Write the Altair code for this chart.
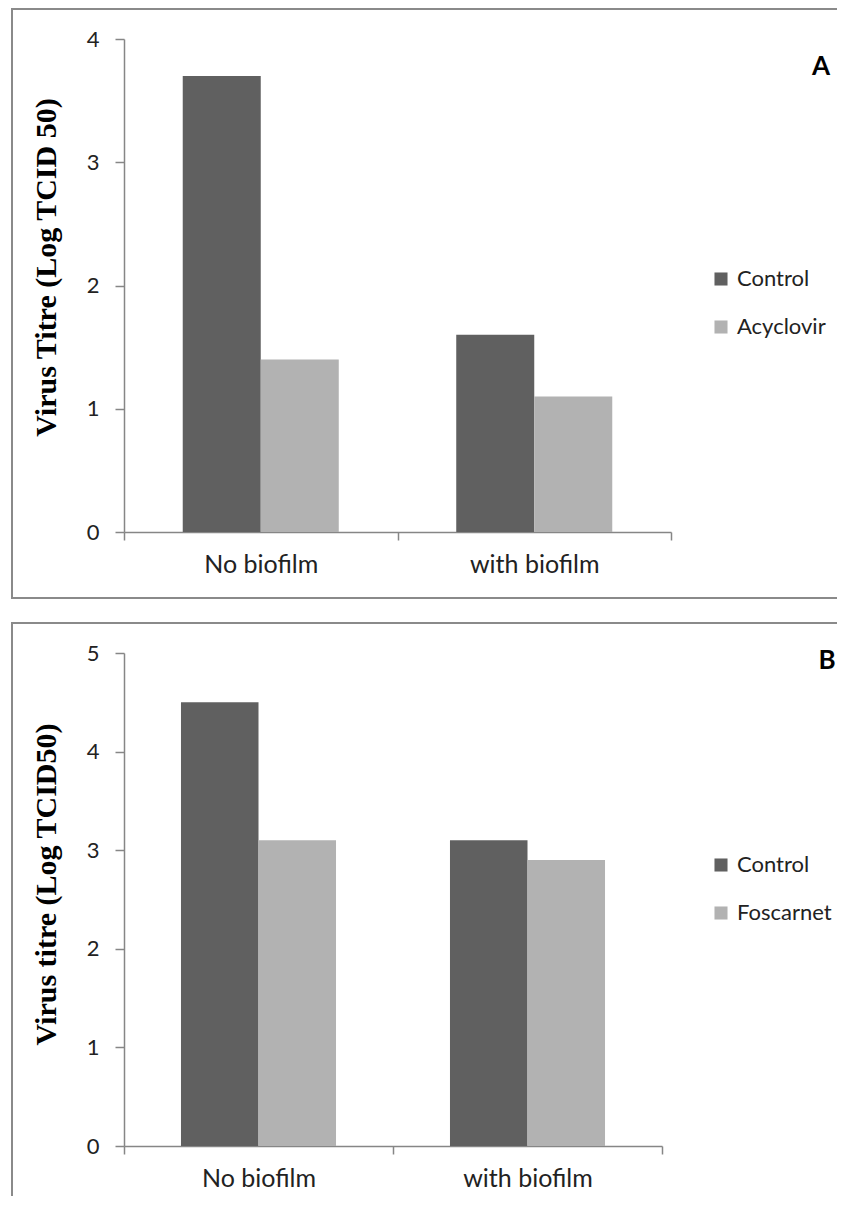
import altair as alt
import pandas as pd

categories = ["No biofilm", "with biofilm"]

series_a = ["Control", "Acyclovir"]
control_a = [3.7, 1.6]
acyclovir_a = [1.4, 1.1]

series_b = ["Control", "Foscarnet"]
control_b = [4.5, 3.1]
foscarnet_b = [3.1, 2.9]

colors = ["#606060", "#b2b2b2"]

SANS = "Lato"
SERIF = "Liberation Serif"


def make_df(series, vals1, vals2):
    rows = []
    for i, c in enumerate(categories):
        rows.append({"category": c, "series": series[0], "value": vals1[i]})
        rows.append({"category": c, "series": series[1], "value": vals2[i]})
    return pd.DataFrame(rows)


def panel(df, series, ymax, ytitle, letter, H, x_range, off_pad, legend_y, title_y, letter_pos):
    W = 840
    y0, y1 = 523, 30
    bars = alt.Chart(df).mark_bar().encode(
        x=alt.X(
            "category:N",
            sort=categories,
            scale=alt.Scale(range=x_range, paddingInner=0, paddingOuter=0),
            axis=alt.Axis(
                title=None,
                offset=-(H - y0),
                labelAngle=0,
                labelFont=SANS,
                labelFontSize=25,
                labelColor="#222222",
                labelPadding=12,
                tickBand="extent",
                tickSize=8,
                tickColor="#868686",
                domainColor="#868686",
                domainWidth=1.5,
                tickWidth=1.5,
            ),
        ),
        xOffset=alt.XOffset("series:N", sort=series,
                            scale=alt.Scale(domain=series, paddingInner=0, paddingOuter=off_pad)),
        y=alt.Y(
            "value:Q",
            scale=alt.Scale(domain=[0, ymax], range=[y0, y1], nice=False, zero=True),
            axis=alt.Axis(
                title=ytitle,
                values=list(range(ymax + 1)),
                offset=-112,
                grid=False,
                labelFont=SANS,
                labelFontSize=22,
                labelColor="#222222",
                labelPadding=16,
                tickSize=9,
                tickColor="#868686",
                domainColor="#868686",
                domainWidth=1.5,
                tickWidth=1.5,
                titleFont=SERIF,
                titleFontSize=30,
                titleFontWeight="bold",
                titleColor="#000000",
                titleX=-78,
                titleY=title_y,
                titleBaseline="middle",
                titleAngle=270,
                titleAlign="center",
            ),
        ),
        color=alt.Color(
            "series:N",
            sort=series,
            scale=alt.Scale(domain=series, range=colors),
            legend=alt.Legend(
                title=None,
                orient="none",
                legendX=698,
                legendY=legend_y,
                symbolType="square",
                symbolSize=170,
                symbolStrokeWidth=0,
                labelFont=SANS,
                labelFontSize=22,
                labelColor="#222222",
                labelOffset=5,
                rowPadding=26,
            ),
        ),
    )
    lab = alt.Chart(pd.DataFrame({"t": [letter]})).mark_text(
        font=SANS, fontSize=26, fontWeight="bold", color="#000000", align="center", baseline="middle"
    ).encode(text="t:N", x=alt.value(letter_pos[0]), y=alt.value(letter_pos[1]))
    return alt.layer(bars, lab).properties(width=W, height=H)


pa = panel(make_df(series_a, control_a, acyclovir_a), series_a, 4,
           "Virus Titre (Log TCID 50)", "A", 589, [112, 659], 0.753, 259, 258, (809, 58))
pb = panel(make_df(series_b, control_b, foscarnet_b), series_b, 5,
           "Virus titre (Log TCID50)", "B", 600, [112, 650], 0.735, 231, 261, (815, 38))

chart = alt.vconcat(pa, pb, spacing=23).properties(
    padding={"left": 3, "top": 0, "right": -16, "bottom": -28}
).resolve_scale(
    x="independent", y="independent", xOffset="independent", color="independent"
).configure_view(stroke="#8a8a8a", strokeWidth=2)

chart.save("out.html", embed_options={"renderer": "svg", "actions": False})
